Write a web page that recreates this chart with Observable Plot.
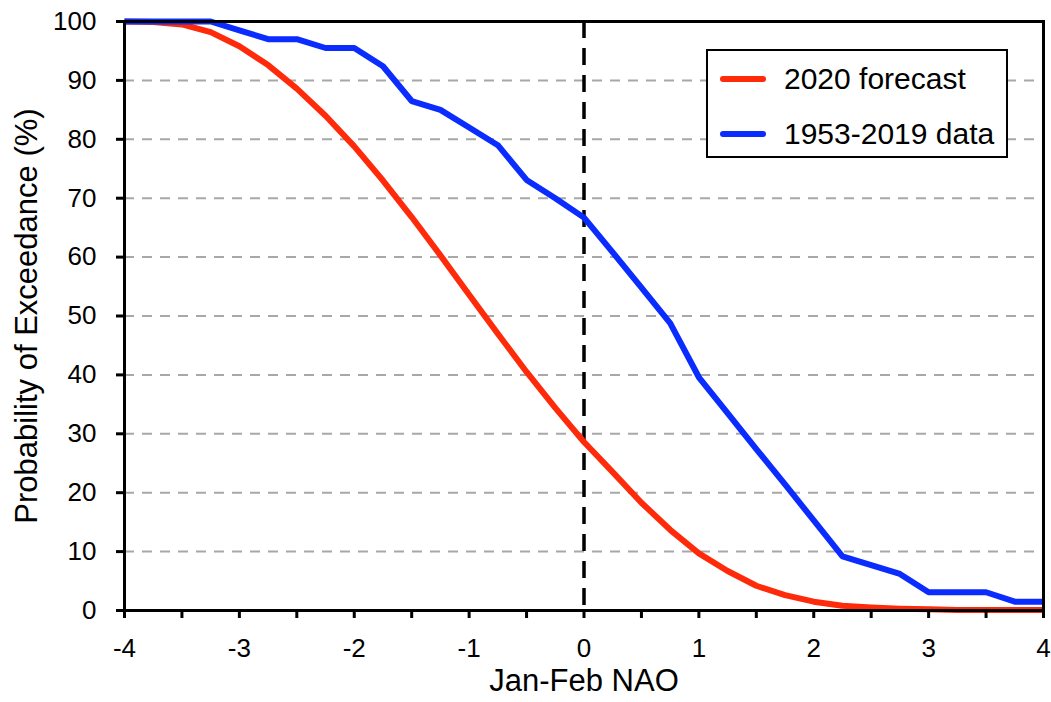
<!DOCTYPE html>
<html>
<head>
<meta charset="utf-8">
<script src="https://cdn.jsdelivr.net/npm/d3@7"></script>
<script src="https://cdn.jsdelivr.net/npm/@observablehq/plot@0.6"></script>
<style>
  html, body { margin: 0; padding: 0; background: #fff; }
  #wrap { position: relative; width: 1051px; height: 702px; font-family: "Liberation Sans", Arial, Helvetica, sans-serif; }
  #legend { position: absolute; left: 706px; top: 49px; width: 298px; height: 105px; border: 2.5px solid #000; background: #fff; }
  .row { position: absolute; left: 0; height: 36px; display: flex; align-items: center; }
  .sw { width: 46px; height: 6px; border-radius: 3px; margin-left: 12px; margin-right: 18px; }
  .lb { font-size: 30px; color: #000; white-space: nowrap; }
</style>
</head>
<body>
<div id="wrap"></div>
<script>
const nao = [-4, -3.75, -3.5, -3.25, -3, -2.75, -2.5, -2.25, -2, -1.75, -1.5, -1.25, -1, -0.75, -0.5, -0.25, 0,
             0.25, 0.5, 0.75, 1, 1.25, 1.5, 1.75, 2, 2.25, 2.5, 2.75, 3, 3.25, 3.5, 3.75, 4];
const forecast2020 = [100, 99.9, 99.5, 98.2, 95.8, 92.6, 88.6, 84.0, 78.8, 73.0, 66.8, 60.3, 53.6, 47.0, 40.5, 34.4, 28.6,
                      23.5, 18.3, 13.7, 9.7, 6.7, 4.2, 2.6, 1.5, 0.8, 0.5, 0.3, 0.2, 0.1, 0.1, 0.1, 0.1];
const data1953_2019 = [100, 100, 100, 100, 98.5, 97.0, 97.0, 95.5, 95.5, 92.4, 86.5, 85.0, 82.0, 79.0, 73.1, 70.0, 66.7,
                       60.8, 54.8, 48.8, 39.6, 33.5, 27.4, 21.4, 15.3, 9.2, 7.7, 6.2, 3.1, 3.1, 3.1, 1.5, 1.5];
const seriesNames = ["2020 forecast", "1953-2019 data"];
const seriesColors = ["#ff2a0a", "#0a2cff"];
const xTicks = [-4, -3.5, -3, -2.5, -2, -1.5, -1, -0.5, 0, 0.5, 1, 1.5, 2, 2.5, 3, 3.5, 4];
const yTicks = [0, 10, 20, 30, 40, 50, 60, 70, 80, 90, 100];
const gridLines = [10, 20, 30, 40, 50, 60, 70, 80, 90];
const xTitle = "Jan-Feb NAO";
const yTitle = "Probability of Exceedance (%)";

const rows = [];
nao.forEach((x, i) => {
  rows.push({x, y: forecast2020[i], s: seriesNames[0]});
});
nao.forEach((x, i) => {
  rows.push({x, y: data1953_2019[i], s: seriesNames[1]});
});

const font = '"Liberation Sans", Arial, Helvetica, sans-serif';

const chart = Plot.plot({
  width: 1051,
  height: 702,
  marginLeft: 124,
  marginRight: 8,
  marginTop: 21,
  marginBottom: 92,
  style: { fontFamily: font, background: "#fff", color: "#000" },
  x: { domain: [-4, 4] },
  y: { domain: [0, 100] },
  color: { domain: seriesNames, range: seriesColors },
  marks: [
    Plot.ruleY(gridLines, { stroke: "#a8a8a8", strokeWidth: 2, strokeDasharray: "10,8" }),
    Plot.ruleX([0], { stroke: "#000", strokeWidth: 3.5, strokeDasharray: "17,10" }),
    Plot.line(rows, { x: "x", y: "y", z: "s", stroke: "s", strokeWidth: 6, strokeLinejoin: "round", strokeLinecap: "butt" }),
    Plot.frame({ stroke: "#000", strokeWidth: 3 }),
    Plot.axisX({ ticks: xTicks, tickSize: 8, tickPadding: 20, fontSize: 26, stroke: "#000", strokeWidth: 3,
                 tickFormat: d => Number.isInteger(d) ? String(d) : "", label: null }),
    Plot.axisY({ ticks: yTicks, tickSize: 8, tickPadding: 20, fontSize: 26, stroke: "#000", strokeWidth: 3,
                 tickFormat: d => String(d), label: null }),
    Plot.text([xTitle], { frameAnchor: "bottom", dy: 71, fontSize: 31, lineAnchor: "middle", textAnchor: "middle", fill: "#000" }),
    Plot.text([yTitle], { frameAnchor: "left", dx: -97, rotate: -90, fontSize: 31, lineAnchor: "middle", textAnchor: "middle", fill: "#000" })
  ]
});

const wrap = document.getElementById("wrap");
wrap.appendChild(chart);

const legend = document.createElement("div");
legend.id = "legend";
seriesNames.forEach((name, i) => {
  const row = document.createElement("div");
  row.className = "row";
  row.style.top = (i === 0 ? 10 : 65) + "px";
  const sw = document.createElement("div");
  sw.className = "sw";
  sw.style.background = seriesColors[i];
  const lb = document.createElement("div");
  lb.className = "lb";
  lb.textContent = name;
  row.appendChild(sw);
  row.appendChild(lb);
  legend.appendChild(row);
});
wrap.appendChild(legend);
</script>
</body>
</html>
